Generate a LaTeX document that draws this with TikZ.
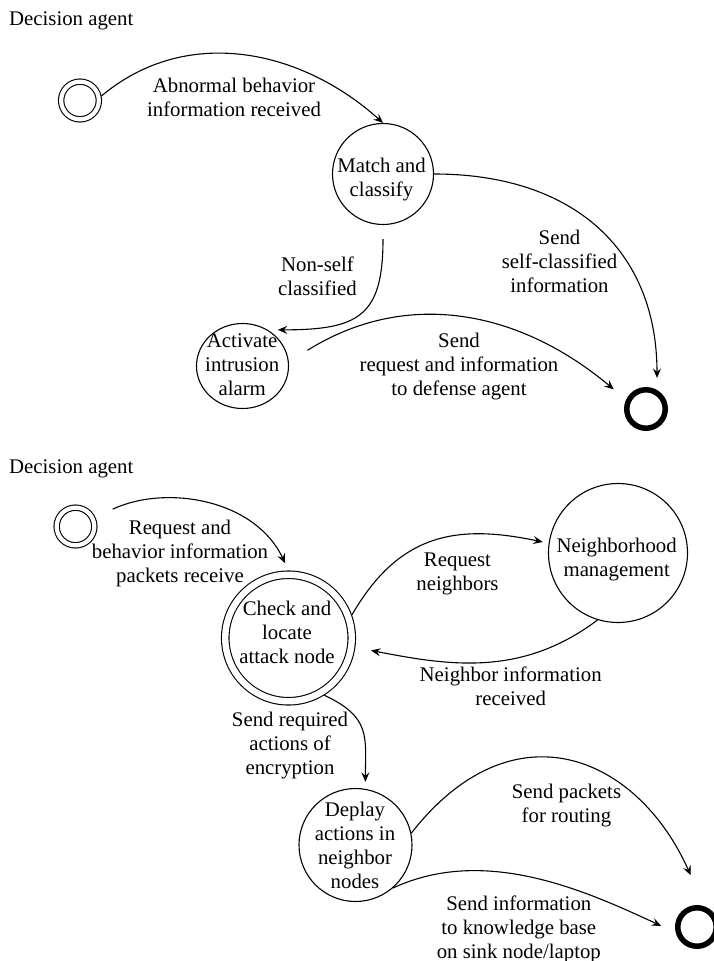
\documentclass[tikz,border=0pt]{standalone}
\usepackage{fontspec}
\setmainfont{Liberation Serif}
\usetikzlibrary{arrows.meta,shapes.geometric}
\tikzset{
  every node/.style={font=\fontsize{20.8}{24}\selectfont},
  txt/.style={align=center, inner sep=0pt},
  title/.style={anchor=base west, inner sep=0pt},
  statec/.style={circle, draw, line width=1.1pt, inner sep=0pt},
  stateell/.style={ellipse, draw, line width=1.1pt, inner sep=0pt, minimum width=92pt, minimum height=85pt},
  initst/.style={circle, draw, double, line width=1.1pt, double distance=4.2pt, inner sep=0pt, minimum size=37.7pt, outer sep=3.15pt},
  checkst/.style={circle, draw, double, line width=1.1pt, double distance=6.4pt, inner sep=0pt, minimum size=126.5pt, outer sep=4.25pt},
  finst/.style={circle, draw, line width=5.5pt, inner sep=0pt, minimum size=38.5pt, outer sep=2.75pt},
  conn/.style={-{Stealth[length=9.5pt,width=8pt,inset=3.5pt]}, line width=1.1pt},
}
\begin{document}
\begin{tikzpicture}[x=1pt, y=1pt]
\path[use as bounding box, fill=white] (0,0) rectangle (714,-961);

% ---------- top diagram ----------
\node[title] (title1) at (9,-25) {Decision agent};
\node[initst] (init1) at (80,-100.5) {};
\node[statec, minimum size=101pt] (match) at (383,-174) {};
\node[txt] (matchT) at (381.5,-180) {Match and\\classify};
\node[stateell] (act) at (242.5,-366) {};
\node[txt] (actT) at (242.2,-364.4) {Activate\\intrusion\\alarm};
\node[finst] (fin1) at (646,-409) {};

\node[txt] (l1) at (234,-97.4) {Abnormal behavior\\information received};
\node[txt] (l2) at (317.5,-276) {Non-self\\classified};
\node[txt] (l3) at (559.5,-260.9) {Send\\self-classified\\information};
\node[txt] (l4) at (459,-366.7) {Send\\request and information\\to defense agent};

\draw[conn] (init1.12) to[out=40,in=138] (match.north);
\draw[conn, shorten >=12pt] (match.east) to[out=0,in=90,looseness=1.15] (fin1.60);
\draw[conn, shorten <=14pt, shorten >=10pt] (match.south) to[out=-90,in=0,looseness=1.5] (act.55);
\draw[conn, shorten <=22pt, shorten >=16pt] (act.5) to[out=32,in=140,looseness=1.05] (fin1.155);

% ---------- bottom diagram ----------
\node[title] (title2) at (9,-473) {Decision agent};
\node[initst] (init2) at (75.5,-526.5) {};
\node[checkst] (check) at (288.5,-638) {};
\node[txt] (checkT) at (287,-632.4) {Check and\\locate\\attack node};
\node[statec, minimum size=139pt] (neigh) at (618,-553) {};
\node[txt] (neighT) at (616.7,-559.8) {Neighborhood\\management};
\node[statec, minimum size=113pt] (deplay) at (355.5,-845) {};
\node[txt] (deplayT) at (355,-845.6) {Deplay\\actions in\\neighbor\\nodes};
\node[finst] (fin2) at (697,-927) {};

\node[txt] (l5) at (180,-553.7) {Request and\\behavior information\\packets receive};
\node[txt] (l6) at (457.5,-573.7) {Request\\neighbors};
\node[txt] (l7) at (510.7,-686.4) {Neighbor information\\received};
\node[txt] (l8) at (290,-745.7) {Send required\\actions of\\encryption};
\node[txt] (l9) at (566.5,-805.5) {Send packets\\for routing};
\node[txt] (l10) at (518.8,-929.2) {Send information\\to knowledge base\\on sink node/laptop};

\draw[conn, shorten <=19pt, shorten >=8pt] (init2.25) to[out=25,in=115] (check.north);
\draw[conn, shorten >=6pt] (check.20) to[out=60,in=168,looseness=1.15] (neigh.172);
\draw[conn, shorten >=16pt] (neigh.253) to[out=217,in=-11] (check.-8);
\draw[conn, shorten >=7pt] (check.-58) to[out=-25,in=90,looseness=1.3] (deplay.80);
\draw[conn, shorten >=34pt] (deplay.12) to[out=52,in=114,looseness=1.4] (fin2.70);
\draw[conn, shorten >=16pt] (deplay.-49) to[out=25,in=155,looseness=0.9] (fin2.195);
\end{tikzpicture}
\end{document}
